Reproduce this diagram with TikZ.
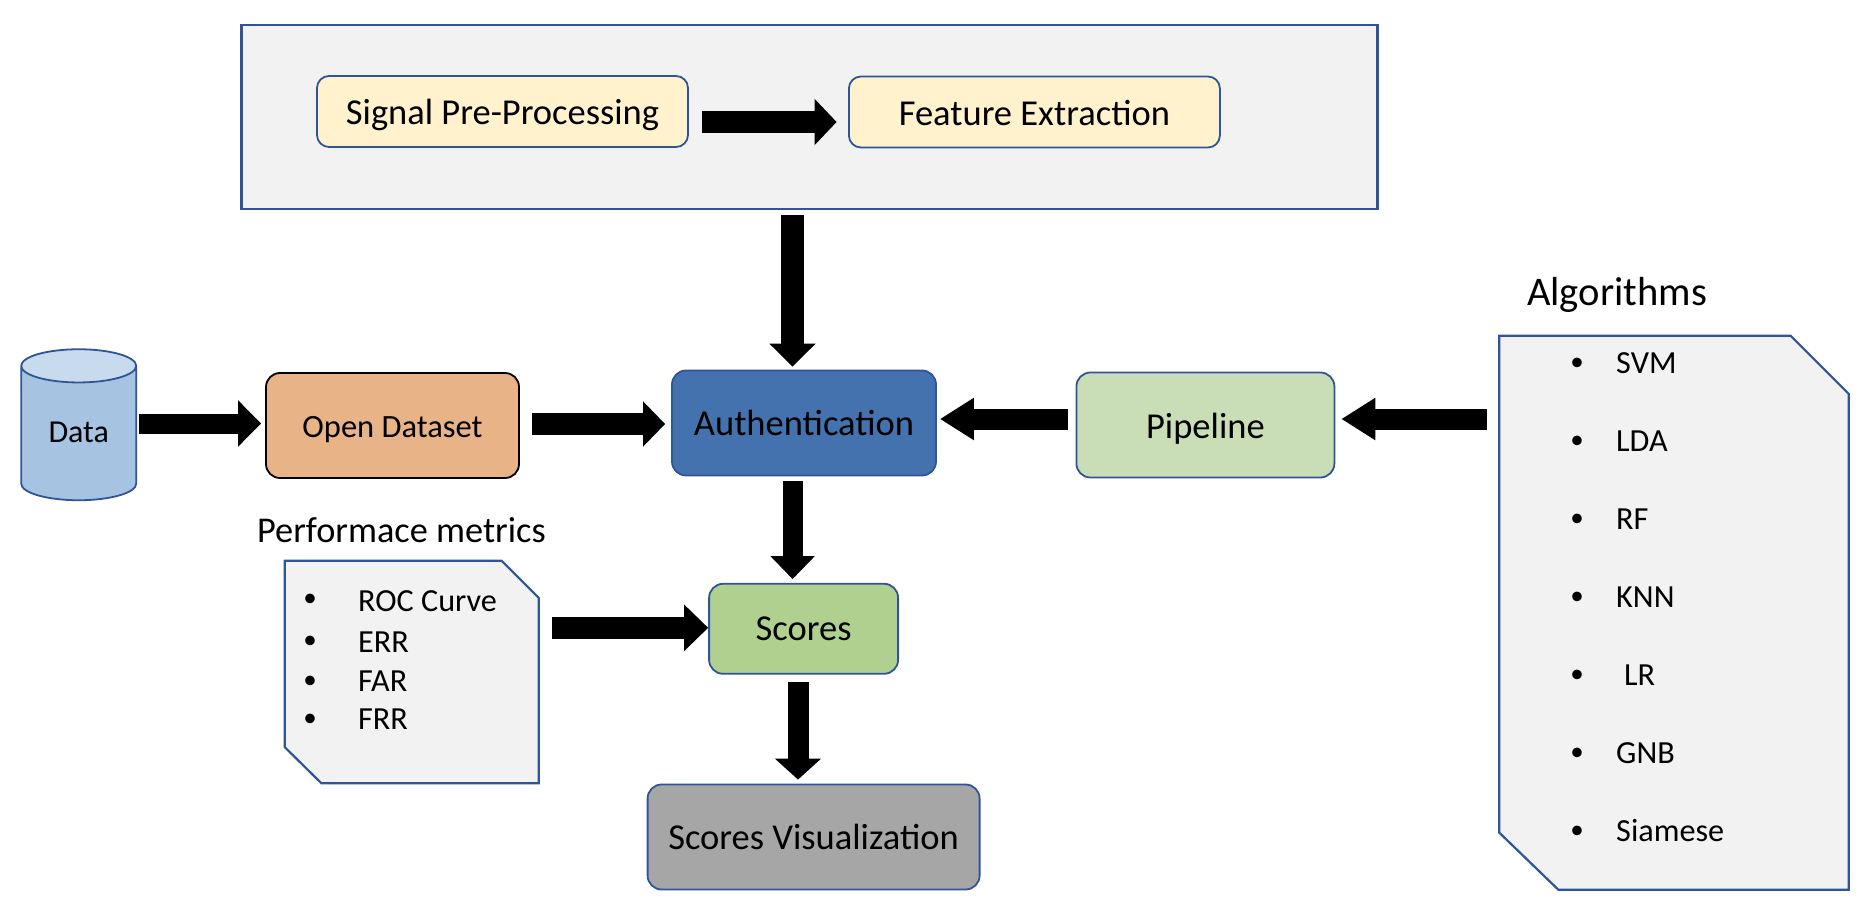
\documentclass[tikz,border=0pt]{standalone}
\usepackage{fontspec}
\setmainfont{Carlito}
\usetikzlibrary{arrows.meta,calc,shapes.geometric}
\definecolor{edgeblue}{HTML}{2F5597}
\definecolor{panelgrey}{HTML}{F2F2F2}
\definecolor{paleyellow}{HTML}{FFF2CC}
\definecolor{authblue}{HTML}{4472AE}
\definecolor{pipegreen}{HTML}{C9DDB7}
\definecolor{scoregreen}{HTML}{AFD08F}
\definecolor{openorange}{HTML}{E9B388}
\definecolor{cylbody}{HTML}{A6C3E2}
\definecolor{cyltop}{HTML}{C8DAEE}
\definecolor{visgrey}{HTML}{A6A6A6}
\newcommand{\lowertext}[2]{\raisebox{-#1}[\height][\depth]{#2}}
\tikzset{
  x=1pt,y=-1pt,
  roundbox/.style={draw=edgeblue,line width=1.8pt,rounded corners=14pt,inner sep=0pt,font=\fontsize{36.5}{40}\selectfont},
  panel/.style={draw=edgeblue,line width=2.2pt,fill=panelgrey,inner sep=0pt},
  notebase/.style={inner sep=0pt},
  plain/.style={inner sep=0pt,font=\fontsize{#1}{#1}\selectfont},
  bulletmark/.style={inner sep=0pt,font=\fontsize{27}{27}\selectfont},
  item/.style={inner sep=0pt,anchor=base west,font=\fontsize{32.2}{34}\selectfont},
  barrow/.style n args={3}{line width=#1,draw=black,-{Triangle[length=#3,width=#2]}},
}
\begin{document}
\begin{tikzpicture}
\useasboundingbox (0,0) rectangle (1876,920);
% top panel
\node[panel,minimum width=1136pt,minimum height=184pt] (prep) at (809.5,117) {};
\node[roundbox,rounded corners=12pt,fill=paleyellow,minimum width=371pt,minimum height=71pt] (sig) at (502.5,111.5) {\lowertext{3.5pt}{Signal Pre-Processing}};
\node[roundbox,rounded corners=12pt,fill=paleyellow,minimum width=371pt,minimum height=71pt] (feat) at (1034.4,112) {\lowertext{1pt}{Feature Extraction}};
% main row
\node[shape=cylinder,shape border rotate=90,aspect=0.55,draw=edgeblue,line width=1.8pt,cylinder uses custom fill,cylinder body fill=cylbody,cylinder end fill=cyltop,minimum width=115pt,minimum height=151pt,inner sep=0pt,font=\fontsize{32}{34}\selectfont] (data) at (78.7,433.5) {\raisebox{1.5pt}[\height][\depth]{Data}};
\node[roundbox,draw=black,fill=openorange,minimum width=253pt,minimum height=105pt,font=\fontsize{32.5}{34}\selectfont] (open) at (392.5,425.5) {\lowertext{4.5pt}{Open Dataset}};
\node[roundbox,fill=authblue,minimum width=264pt,minimum height=105pt] (auth) at (804,423) {Authentication};
\node[roundbox,fill=pipegreen,minimum width=258pt,minimum height=105pt] (pipe) at (1205.4,425) {\lowertext{3.5pt}{Pipeline}};
\node[roundbox,fill=scoregreen,minimum width=189pt,minimum height=90pt] (scores) at (803.6,628.8) {Scores};
\node[roundbox,fill=visgrey,minimum width=332pt,minimum height=105pt] (vis) at (813.6,837) {Scores Visualization};
% performance note
\node[plain=36.3] (perftitle) at (401.4,530) {Performace metrics};
\node[notebase,minimum width=253.5pt,minimum height=222pt] (perf) at (411.75,672) {};
\draw[panel] (perf.north west) -- ($(perf.north east)+(-37,0)$) -- ($(perf.north east)+(0,37)$) -- (perf.south east) -- ($(perf.south west)+(36.5,0)$) -- ($(perf.south west)+(0,-36)$) -- cycle;
\node[bulletmark] (pb1) at (310,600.5) {•};
\node[bulletmark] (pb2) at (310,642) {•};
\node[bulletmark] (pb3) at (310,682) {•};
\node[bulletmark] (pb4) at (310,720) {•};
\node[item] (pt1) at (358,611) {ROC Curve};
\node[item] (pt2) at (358,652) {ERR};
\node[item] (pt3) at (358,691) {FAR};
\node[item] (pt4) at (358,729) {FRR};
% algorithms note
\node[plain=40.6] (algtitle) at (1617,295) {Algorithms};
\node[notebase,minimum width=349pt,minimum height=553.5pt] (alg) at (1674,612.75) {};
\draw[panel] (alg.north west) -- ($(alg.north east)+(-58,0)$) -- ($(alg.north east)+(0,58)$) -- (alg.south east) -- ($(alg.south west)+(59,0)$) -- ($(alg.south west)+(0,-57)$) -- cycle;
\foreach \nm/\yy/\lab/\xx in {a1/363/SVM/1616,a2/441/LDA/1616,a3/519/RF/1616,a4/597/KNN/1616,a5/675/LR/1624,a6/753/GNB/1616,a7/831/Siamese/1616}{
  \node[bulletmark] (b\nm) at (1577,\yy+1.5) {•};
  \node[item] (t\nm) at (\xx,\yy+10) {\lab};
}
% block arrows
\draw[barrow={22pt}{45pt}{22pt}] ($(sig.east)+(13,10.5)$) -- ($(sig.east -| feat.west)+(-11.4,10.5)$);
\draw[barrow={23pt}{45pt}{23pt}] ($(prep.south -| auth.north)+(-11.5,5)$) -- ($(auth.north)+(-11.5,-3)$);
\draw[barrow={20pt}{45pt}{23pt}] ($(data.east |- open.west)+(2,-2)$) -- ($(open.west)+(-4,-2)$);
\draw[barrow={22pt}{44pt}{22pt}] ($(open.east)+(12,-1.5)$) -- ($(auth.west |- open.east)+(-6,-1.5)$);
\draw[barrow={21pt}{40pt}{34pt}] ($(alg.west |- pipe.east)+(-12.5,-6)$) -- ($(pipe.east)+(6,-6)$);
\draw[barrow={21pt}{40pt}{34pt}] ($(pipe.west)+(-7.6,-6)$) -- ($(auth.east |- pipe.west)+(3,-6)$);
\draw[barrow={20pt}{43pt}{23pt}] ($(auth.south)+(-11.4,5)$) -- ($(auth.south |- scores.north)+(-11.4,-3.8)$);
\draw[barrow={22pt}{45pt}{24pt}] ($(perf.east |- scores.west)+(13.5,-1)$) -- ($(scores.west)+(0,-1)$);
\draw[barrow={21pt}{45pt}{21pt}] ($(scores.south)+(-5.6,7)$) -- ($(vis.north)+(-15.6,-4)$);
\end{tikzpicture}
\end{document}
